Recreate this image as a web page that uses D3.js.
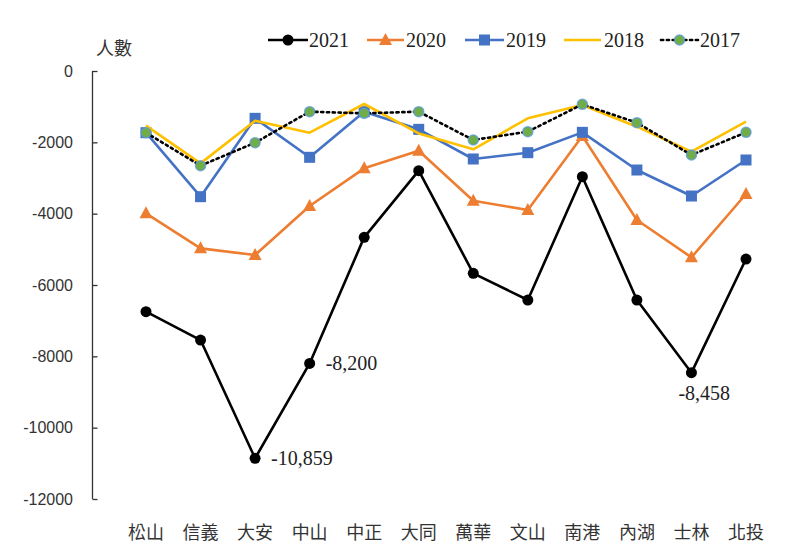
<!DOCTYPE html>
<html><head><meta charset="utf-8">
<script src="https://cdn.jsdelivr.net/npm/d3@7"></script>
<style>body{margin:0;background:#fff}svg{display:block}</style>
</head><body>
<svg id="c" width="792" height="555"></svg>
<script>
const categories = ['松山','信義','大安','中山','中正','大同','萬華','文山','南港','內湖','士林','北投'];
const years = ['2021','2020','2019','2018','2017'];
const v2021 = [-6749, -7543, -10859, -8200, -4663, -2795, -5673, -6421, -2963, -6421, -8458, -5272];
const v2020 = [-3990, -4972, -5160, -3786, -2729, -2234, -3636, -3898, -1823, -4178, -5225, -3449];
const v2019 = [-1730, -3524, -1327, -2420, -1140, -1636, -2467, -2290, -1720, -2776, -3505, -2495];
const v2018 = [-1533, -2590, -1393, -1730, -925, -1750, -2196, -1327, -953, -1561, -2262, -1421];
const v2017 = [-1730, -2655, -2010, -1140, -1187, -1140, -1935, -1701, -935, -1449, -2355, -1720];
const yTicks = [0, -2000, -4000, -6000, -8000, -10000, -12000];
const annotations = [
  {cat:'大安', value:-10859, text:'-10,859', pos:'right'},
  {cat:'中山', value:-8200, text:'-8,200', pos:'right'},
  {cat:'士林', value:-8458, text:'-8,458', pos:'below'}
];

const seriesValues = [v2021, v2020, v2019, v2018, v2017];
const styles = [
  {color:'#000000', marker:'circle', fill:'#000000', stroke:'none', dash:null},
  {color:'#ED7D31', marker:'triangle', fill:'#ED7D31', stroke:'none', dash:null},
  {color:'#4472C4', marker:'square', fill:'#4472C4', stroke:'none', dash:null},
  {color:'#FFC000', marker:null, dash:null},
  {color:'#000000', marker:'circle2017', fill:'#70AD47', stroke:'#5B9BD5', dash:'2.2,3.6'}
];

const svg = d3.select('#c');
const x = d3.scalePoint().domain(categories).range([146, 746]);
const y = d3.scaleLinear().domain([-12000, 0]).range([499, 71]);
const axisX = 92.5;

// y axis
const yAxis = d3.axisRight(y).tickValues(yTicks).tickSize(5).tickFormat('');
const ga = svg.append('g').attr('transform', `translate(${axisX},0)`).call(yAxis);
ga.select('.domain').attr('stroke','#333').attr('stroke-width',1.3).attr('d', `M0,${y(0)}V${y(-12000)}`);
ga.selectAll('.tick line').attr('stroke','#333').attr('stroke-width',1.3);
svg.append('g').selectAll('text').data(yTicks).join('text')
  .attr('x', 73).attr('y', d => y(d)).attr('dy','0.36em')
  .attr('text-anchor','end')
  .attr('font-family','"Liberation Sans", Arial, sans-serif')
  .attr('font-size',16).attr('fill','#333')
  .text(d => d);

// y axis title
svg.append('text').attr('x',96).attr('y',55)
  .attr('font-family','"Noto Sans CJK TC", sans-serif').attr('font-size',18).attr('fill','#333')
  .text('人數');

// x labels
svg.append('g').selectAll('text').data(categories).join('text')
  .attr('x', d => x(d)).attr('y', 539).attr('text-anchor','middle')
  .attr('font-family','"Noto Sans CJK TC", sans-serif').attr('font-size',18).attr('fill','#333')
  .text(d => d);

function drawMarker(g, type, cx, cy, st) {
  if (type === 'circle') {
    g.append('circle').attr('cx',cx).attr('cy',cy).attr('r',5.5).attr('fill',st.fill);
  } else if (type === 'square') {
    g.append('rect').attr('x',cx-5.5).attr('y',cy-5.5).attr('width',11).attr('height',11).attr('fill',st.fill);
  } else if (type === 'triangle') {
    g.append('path').attr('d', `M${cx},${cy-7}L${cx+6.5},${cy+5}L${cx-6.5},${cy+5}Z`).attr('fill',st.fill);
  } else if (type === 'circle2017') {
    g.append('circle').attr('cx',cx).attr('cy',cy).attr('r',5).attr('fill',st.fill)
      .attr('stroke',st.stroke).attr('stroke-width',1.5).attr('stroke-opacity',0.8);
  }
}

const line = d3.line().x(d => x(d.c)).y(d => y(d.v));
seriesValues.forEach((vals, i) => {
  const st = styles[i];
  const data = categories.map((c, j) => ({c, v: vals[j]}));
  const g = svg.append('g');
  g.append('path').datum(data).attr('d', line).attr('fill','none')
    .attr('stroke', st.color).attr('stroke-width', 2.6)
    .attr('stroke-linejoin','round')
    .attr('stroke-linecap', st.dash ? 'round' : 'butt')
    .attr('stroke-dasharray', st.dash);
  if (st.marker) data.forEach(d => drawMarker(g, st.marker, x(d.c), y(d.v), st));
});

// annotations
annotations.forEach(a => {
  const px = x(a.cat), py = y(a.value);
  const t = svg.append('text')
    .attr('font-family','"Liberation Serif", "Times New Roman", serif')
    .attr('font-size',20).attr('fill','#222').text(a.text);
  if (a.pos === 'right') t.attr('x', px + 16).attr('y', py + 7);
  else t.attr('x', px - 13).attr('y', py + 27);
});

// legend
const legendItems = [
  {x0:268, x1:308, tx:309},
  {x0:367, x1:404, tx:406},
  {x0:465, x1:504, tx:506},
  {x0:564, x1:601, tx:604},
  {x0:661, x1:698, tx:700}
];
const ly = 40;
years.forEach((yr, i) => {
  const st = styles[i], it = legendItems[i];
  const g = svg.append('g');
  g.append('line').attr('x1',it.x0).attr('x2',it.x1).attr('y1',ly).attr('y2',ly)
    .attr('stroke',st.color).attr('stroke-width',2.6)
    .attr('stroke-linecap', st.dash ? 'round' : 'butt')
    .attr('stroke-dasharray', st.dash);
  if (st.marker) drawMarker(g, st.marker, (it.x0+it.x1)/2, ly, st);
  g.append('text').attr('x',it.tx).attr('y',ly+7)
    .attr('font-family','"Liberation Serif", "Times New Roman", serif')
    .attr('font-size',20).attr('fill','#222').text(yr);
});
</script>
</body></html>
